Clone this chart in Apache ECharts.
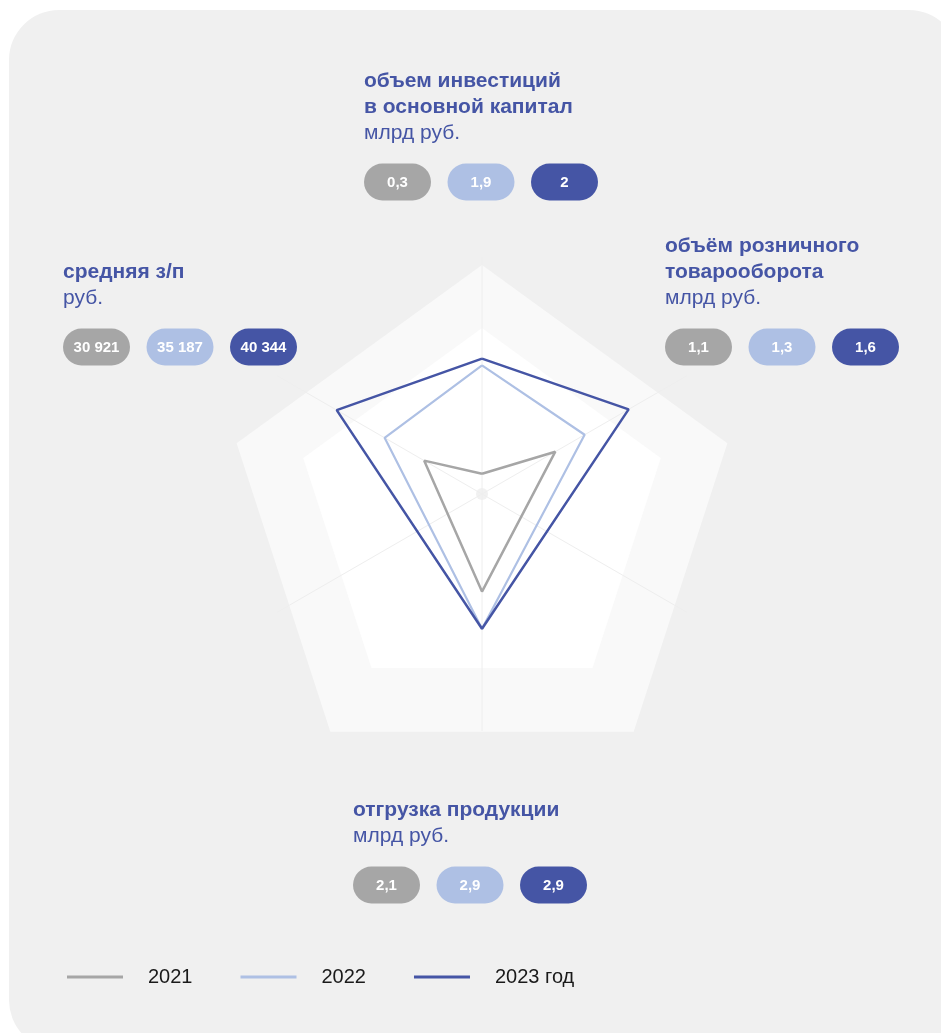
<!DOCTYPE html>
<html lang="ru">

<head>
    <meta charset="UTF-8">
    <title>Радар показателей</title>
    <script src="https://cdn.jsdelivr.net/npm/echarts@6/dist/echarts.min.js"></script>
    <style>
        html, body { margin: 0; padding: 0; background: #fff; }
        .panel {
            position: absolute; left: 9px; top: 10px; width: 950px; height: 1040px;
            background: #f0f0f0; border-radius: 50px;
        }
        #chart { position: absolute; left: 0; top: 0; width: 941px; height: 1033px; }
    </style>
</head>

<body>
    <div class="panel"></div>
    <div id="chart"></div>

    <script>
        // данные
        var years = ['2021', '2022', '2023 год'];
        var colors = ['#a6a6a6', '#aec0e4', '#4555a5'];
        var titles = [
            ['объем инвестиций', 'в основной капитал'],
            ['объём розничного', 'товарооборота'],
            ['отгрузка продукции'],
            ['средняя з/п']
        ];
        var units = ['млрд руб.', 'млрд руб.', 'млрд руб.', 'руб.'];
        var values2021 = [0.3, 1.1, 2.1, 30921];
        var values2022 = [1.9, 1.3, 2.9, 35187];
        var values2023 = [2, 1.6, 2.9, 40344];
        // шкалы осей (как у radar indicator min/max) и угол оси
        var axisMin = [0, 0.6, 0, 24700];
        var axisMax = [3.5, 2.0, 5.1, 46800];
        var axisAngle = [60, 0, 240, 120];
        // где стоят подписи блоков
        var blockPos = [[364, 68], [665, 233], [353, 797], [63, 259]];

        var allValues = [values2021, values2022, values2023];
        var font = '"Liberation Sans", Arial, sans-serif';
        var blue = '#4555a5';

        function fmt(v) {
            if (v >= 1000) {
                return String(v).replace(/\B(?=(\d{3})+(?!\d))/g, ' ');
            }
            return String(v).replace('.', ',');
        }

        function polygon(vals) {
            var pts = vals.map(function (v, i) {
                return [(v - axisMin[i]) / (axisMax[i] - axisMin[i]), axisAngle[i]];
            });
            pts.push(pts[0]);
            return pts;
        }

        // подписи и "таблетки" со значениями
        var graphics = [];
        titles.forEach(function (lines, i) {
            var x = blockPos[i][0];
            var y = blockPos[i][1] + 13;
            lines.forEach(function (t) {
                graphics.push({
                    type: 'text', x: x, y: y,
                    style: { text: t, fill: blue, font: 'bold 21px ' + font, textVerticalAlign: 'middle' }
                });
                y += 26;
            });
            graphics.push({
                type: 'text', x: x, y: y,
                style: { text: units[i], fill: blue, font: '21px ' + font, textVerticalAlign: 'middle' }
            });
            var py = y + 49;
            allValues.forEach(function (vals, k) {
                var px = x + k * 83.5;
                graphics.push({
                    type: 'rect',
                    shape: { x: px, y: py - 18.5, width: 67, height: 37, r: 18.5 },
                    style: { fill: colors[k] }
                });
                graphics.push({
                    type: 'text', x: px + 33.5, y: py + 1,
                    style: {
                        text: fmt(vals[i]), fill: '#fff', font: 'bold 15px ' + font,
                        textAlign: 'center', textVerticalAlign: 'middle'
                    }
                });
            });
        });

        var chart = echarts.init(document.getElementById('chart'));

        var option = {
            animation: false,
            backgroundColor: 'transparent',
            radar: [
                {
                    center: [482, 523], radius: 258, shape: 'polygon', splitNumber: 1,
                    indicator: [{ max: 1 }, { max: 1 }, { max: 1 }, { max: 1 }, { max: 1 }],
                    axisName: { show: false }, axisLine: { show: false }, splitLine: { show: false },
                    splitArea: { show: true, areaStyle: { color: ['#f9f9f9'] } },
                    z: 0
                },
                {
                    center: [482, 516], radius: 188, shape: 'polygon', splitNumber: 1,
                    indicator: [{ max: 1 }, { max: 1 }, { max: 1 }, { max: 1 }, { max: 1 }],
                    axisName: { show: false }, axisLine: { show: false }, splitLine: { show: false },
                    splitArea: { show: true, areaStyle: { color: ['#ffffff'] } },
                    z: 0
                }
            ],
            polar: { center: [482, 494], radius: 237 },
            angleAxis: {
                type: 'value', min: 0, max: 360, interval: 60, startAngle: 30, clockwise: false,
                axisLine: { show: false }, axisTick: { show: false }, axisLabel: { show: false },
                // цвет как у фона панели: за пятиугольником линии не видны
                splitLine: { show: true, lineStyle: { color: '#eeeeee', width: 1 } },
                z: 1
            },
            radiusAxis: {
                min: 0, max: 1,
                axisLine: { show: false }, axisTick: { show: false }, axisLabel: { show: false },
                splitLine: { show: false }
            },
            legend: {
                left: 62, top: 962,
                icon: 'rect', itemWidth: 56, itemHeight: 3, itemGap: 48,
                data: years,
                textStyle: { fontSize: 20, color: '#1a1a1a', fontFamily: font, padding: [0, 0, 0, 20] }
            },
            graphic: graphics,
            series: [
                {
                    type: 'scatter', coordinateSystem: 'polar', data: [[0, 0]],
                    symbolSize: 12, itemStyle: { color: '#ededed' }, silent: true, z: 1
                }
            ].concat(allValues.map(function (vals, k) {
                return {
                    name: years[k], type: 'line', coordinateSystem: 'polar',
                    data: polygon(vals), showSymbol: false, smooth: false,
                    lineStyle: { color: colors[k], width: k === 1 ? 2.2 : 2.5 },
                    itemStyle: { color: colors[k] },
                    z: 3
                };
            }))
        };

        chart.setOption(option);
    </script>
</body>

</html>
